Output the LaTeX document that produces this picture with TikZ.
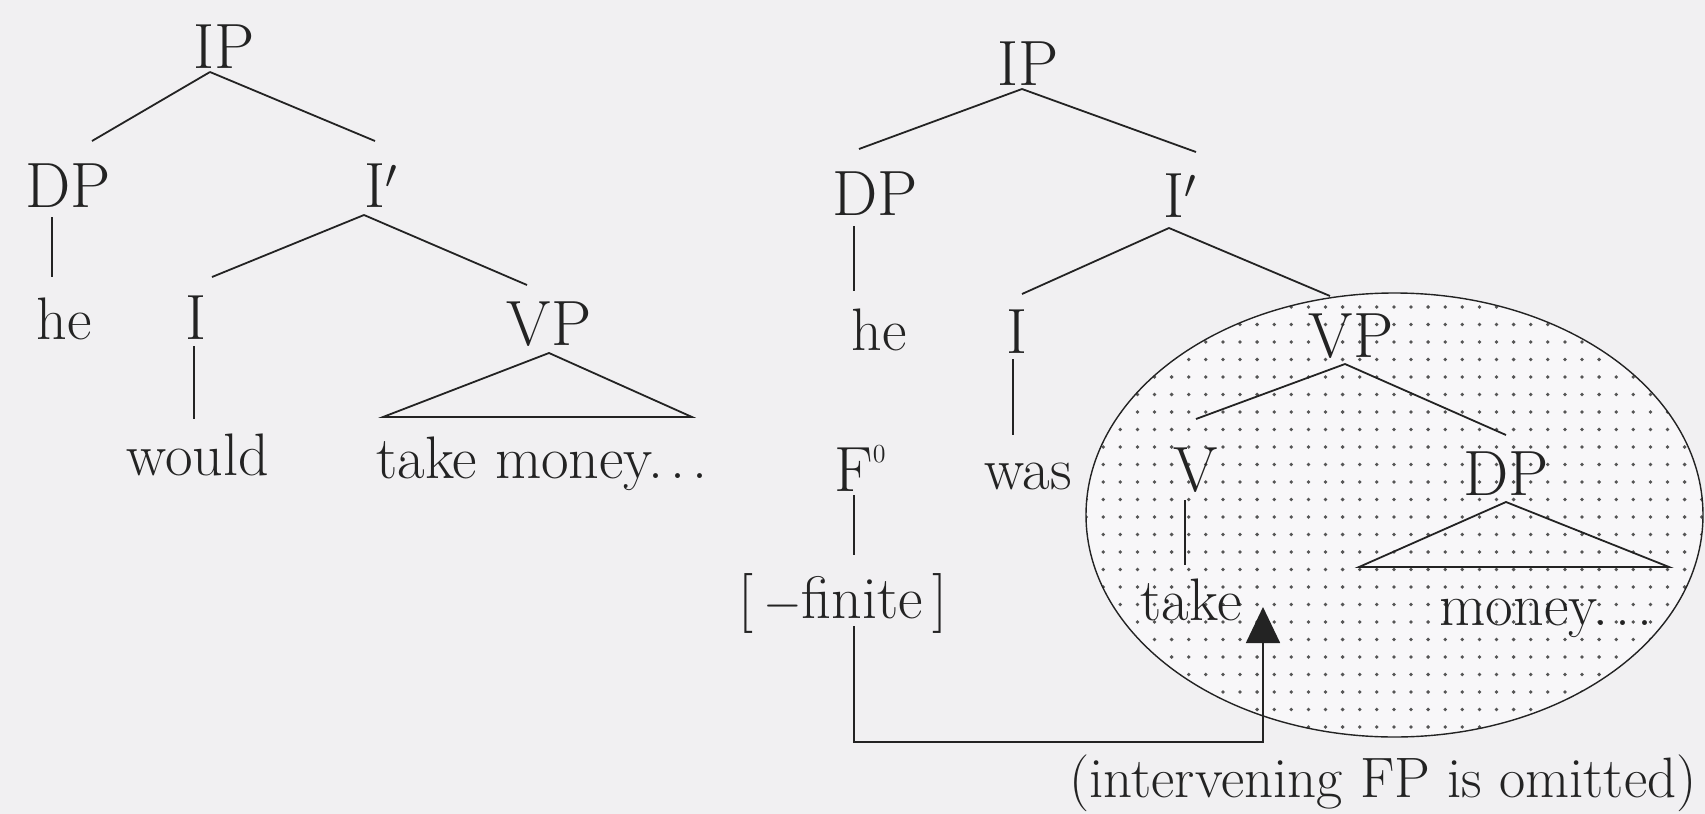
\documentclass[tikz,border=0pt]{standalone}
\usepackage{fontspec}
\usetikzlibrary{calc,arrows.meta}
\definecolor{bg}{RGB}{241,240,242}
\definecolor{ink}{RGB}{35,35,35}
\definecolor{dotc}{RGB}{85,85,85}
\definecolor{ellfill}{RGB}{248,247,249}
\newcommand{\sdots}{.\kern0.12em.\kern0.12em.}
\begin{document}
\begin{tikzpicture}[x=0.5pt,y=-0.5pt,
  cat/.style={anchor=base,inner sep=0pt,text=ink,font=\fontsize{32}{38}\selectfont},
  word/.style={anchor=base,inner sep=0pt,text=ink,font=\fontsize{30}{36}\selectfont},
  edge/.style={draw=ink,line width=0.9pt},
]
\fill[bg] (0,0) rectangle (1705,814);
\useasboundingbox (0,0) rectangle (1705,814);

% shaded ellipse
\fill[ellfill] (1394.5,515) ellipse [x radius=154.25pt, y radius=111pt];
\begin{scope}
  \clip (1394.5,515) ellipse [x radius=154.25pt, y radius=111pt];
  \foreach \i in {0,...,38} {
    \foreach \j in {-9,...,17} {
      \fill[dotc] ({1069+17.1*\i},{447+17.5*\j}) circle[radius=0.95pt];
    }
  }
\end{scope}
\draw[ink,line width=0.7pt] (1394.5,515) ellipse [x radius=154.25pt, y radius=111pt];

% left tree
\node[cat] (ipA) at (224,68) {IP};
\node[cat] (dpA) at (68,207) {DP};
\node[cat] (ibA) at (381,207) {I$'$};
\node[word] (heA) at (64,339) {he};
\node[cat] (iA) at (196,339) {I};
\node[cat] (vpA) at (549,345) {VP};
\node[word] (wouldA) at (198,475) {would};
\node[word] (tmA) at (542,478) {take money\sdots};

\draw[edge] ($(ipA.base)+(-14,4)$) -- ($(dpA.base)+(24,-66)$);
\draw[edge] ($(ipA.base)+(-14,4)$) -- ($(ibA.base)+(-6,-66)$);
\draw[edge] ($(dpA.base)+(-16,10)$) -- ($(heA.base)+(-12,-62)$);
\draw[edge] ($(ibA.base)+(-17,8)$) -- ($(iA.base)+(16,-62)$);
\draw[edge] ($(ibA.base)+(-17,8)$) -- ($(vpA.base)+(-22,-60)$);
\draw[edge] ($(iA.base)+(-2,7)$) -- ($(wouldA.base)+(-4,-56)$);
\draw[edge] ($(vpA.base)+(0,8)$) -- ($(tmA.base)+(-159,-61)$) -- ($(tmA.base)+(150,-61)$) -- cycle;

% right tree
\node[cat] (ipB) at (1028,85) {IP};
\node[cat] (dpB) at (875,215) {DP};
\node[cat] (ibB) at (1180,217) {I$'$};
\node[word] (heB) at (879,350) {he};
\node[cat] (iB) at (1017,353) {I};
\node[cat] (vpB) at (1351,357) {VP};
\node[cat] (fB) at (860,491) {F\raisebox{0.45em}{\fontsize{13}{13}\selectfont 0}};
\node[word] (wasB) at (1028,489) {was};
\node[cat] (vB) at (1196,491) {V};
\node[cat] (dpC) at (1506,495) {DP};
\node[word] (finB) at (843,618) {[\,$-$finite\,]};
\node[word] (takeB) at (1191,620) {take};
\node[word] (monB) at (1546,625) {money\sdots};
\node[word,font=\fontsize{28.5}{34}\selectfont] (note) at (1383,797) {(intervening FP is omitted)};

\draw[edge] ($(ipB.base)+(-6,4)$) -- ($(dpB.base)+(-16,-66)$);
\draw[edge] ($(ipB.base)+(-6,4)$) -- ($(ibB.base)+(16,-65)$);
\draw[edge] ($(dpB.base)+(-21,11)$) -- ($(heB.base)+(-25,-59)$);
\draw[edge] ($(ibB.base)+(-11,11)$) -- ($(iB.base)+(5,-59)$);
\draw[edge] ($(ibB.base)+(-11,11)$) -- ($(vpB.base)+(-21,-61)$);
\draw[edge] ($(iB.base)+(-4,6)$) -- ($(wasB.base)+(-15,-54)$);
\draw[edge] ($(fB.base)+(-6,4)$) -- ($(finB.base)+(11,-63)$);
\draw[edge] ($(vpB.base)+(-6,7)$) -- ($(vB.base)+(0,-72)$);
\draw[edge] ($(vpB.base)+(-6,7)$) -- ($(dpC.base)+(0,-60)$);
\draw[edge] ($(vB.base)+(-11,9)$) -- ($(takeB.base)+(-6,-55)$);
\draw[edge] ($(dpC.base)+(0,7)$) -- ($(monB.base)+(-187,-58)$) -- ($(monB.base)+(123,-58)$) -- cycle;

% movement arrow
\coordinate (turn) at ($(takeB.base)+(72,122)$);
\draw[edge,-{Triangle[length=18pt,width=17pt]}] ($(finB.base)+(11,8)$) |- (turn) -- ($(takeB.base)+(72,-13)$);
\end{tikzpicture}
\end{document}
